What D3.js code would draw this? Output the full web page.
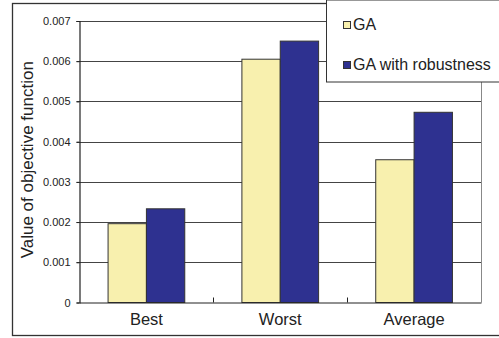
<!DOCTYPE html>
<html>
<head>
<meta charset="utf-8">
<script src="https://cdn.jsdelivr.net/npm/d3@7"></script>
<style>
  body { margin: 0; background: white; }
  text { font-family: "Liberation Sans", Arial, sans-serif; fill: #222; }
</style>
</head>
<body>
<script>
// chart data
const categories = ["Best", "Worst", "Average"];
const seriesNames = ["GA", "GA with robustness"];
const gaValues = [0.00196, 0.00605, 0.00355];
const robustValues = [0.00233, 0.00650, 0.00473];
const yTicks = [0, 0.001, 0.002, 0.003, 0.004, 0.005, 0.006, 0.007];
const yTitle = "Value of objective function";

const colors = ["#F8F0AE", "#2E3190"];

const W = 499, H = 338;
const plot = {left: 79.5, right: 481, top: 21, bottom: 302.5};

const svg = d3.select("body")
  .append("svg")
    .attr("width", W)
    .attr("height", H);

// outer frame (runs off the right edge like the original)
svg.append("rect")
  .attr("x", 12.5).attr("y", 3.5)
  .attr("width", 500).attr("height", 332)
  .attr("fill", "white")
  .attr("stroke", "#333")
  .attr("stroke-width", 1.3);

// scales
const x0 = d3.scaleBand()
  .domain(categories)
  .range([plot.left, plot.right])
  .padding(0);

const x1 = d3.scaleBand()
  .domain(seriesNames)
  .range([0, x0.bandwidth()])
  .paddingInner(0)
  .paddingOuter(0.745);

const y = d3.scaleLinear()
  .domain([0, 0.007])
  .range([plot.bottom, plot.top]);

// gridlines
svg.append("g")
  .selectAll("line")
  .data(yTicks.filter(d => d > 0))
  .enter()
  .append("line")
    .attr("x1", plot.left - 3)
    .attr("x2", plot.right)
    .attr("y1", d => Math.round(y(d)) + 0.5)
    .attr("y2", d => Math.round(y(d)) + 0.5)
    .attr("stroke", "#444")
    .attr("stroke-width", 1);

// right edge of plot area
svg.append("line")
  .attr("x1", plot.right + 0.5).attr("x2", plot.right + 0.5)
  .attr("y1", y(0.007)).attr("y2", plot.bottom)
  .attr("stroke", "#888");

// bars
const rows = categories.map((c, i) => ({cat: c, vals: [gaValues[i], robustValues[i]]}));
svg.append("g")
  .selectAll("g")
  .data(rows)
  .enter()
  .append("g")
    .attr("transform", d => `translate(${x0(d.cat)},0)`)
  .selectAll("rect")
  .data(d => d.vals.map((v, j) => ({name: seriesNames[j], value: v, j: j})))
  .enter()
  .append("rect")
    .attr("x", d => x1(d.name))
    .attr("y", d => y(d.value))
    .attr("width", x1.bandwidth())
    .attr("height", d => y(0) - y(d.value))
    .attr("fill", d => colors[d.j])
    .attr("stroke", "#333")
    .attr("stroke-width", 1);

// y axis
const yAxis = d3.axisLeft(y)
  .tickValues(yTicks)
  .tickSize(3)
  .tickFormat(d => d === 0 ? "0" : d3.format(".3f")(d));
const gy = svg.append("g")
  .attr("transform", `translate(${plot.left},0)`)
  .call(yAxis);
gy.select(".domain").attr("stroke", "#222").attr("stroke-width", 1.2);
gy.selectAll(".tick line").attr("stroke", "#222");
gy.selectAll(".tick text")
  .attr("x", -9)
  .style("font-size", "11px")
  .style("font-family", "'Liberation Sans', Arial, sans-serif")
  .attr("fill", "#222");

// x axis
const xAxis = d3.axisBottom(x0).tickSize(0).tickSizeOuter(0);
const gx = svg.append("g")
  .attr("transform", `translate(0,${plot.bottom})`)
  .call(xAxis);
gx.select(".domain").attr("stroke", "#222").attr("stroke-width", 1.2);
gx.selectAll(".tick text")
  .attr("y", 11)
  .style("font-size", "16.5px")
  .style("font-family", "'Liberation Sans', Arial, sans-serif")
  .attr("fill", "#222");

// category separator ticks pointing up
svg.append("g")
  .selectAll("line")
  .data(categories.slice(1))
  .enter()
  .append("line")
    .attr("x1", d => Math.round(x0(d)) + 0.5)
    .attr("x2", d => Math.round(x0(d)) + 0.5)
    .attr("y1", plot.bottom)
    .attr("y2", plot.bottom - 5)
    .attr("stroke", "#222");

// y axis title
svg.append("text")
  .attr("transform", `translate(33,${(plot.top + plot.bottom) / 2 - 2}) rotate(-90)`)
  .style("text-anchor", "middle")
  .style("font-size", "17px")
  .text(yTitle);

// legend box (extends past the right edge)
svg.append("rect")
  .attr("x", 326.5).attr("y", 0)
  .attr("width", 200).attr("height", 82)
  .attr("fill", "white")
  .attr("stroke", "#333")
  .attr("stroke-width", 1);

const legend = svg.append("g")
  .selectAll("g")
  .data(seriesNames)
  .enter()
  .append("g")
    .attr("transform", (d, i) => `translate(343,${21 + i * 40})`);
legend.append("rect")
  .attr("x", 0.5).attr("y", 0.5)
  .attr("width", 7).attr("height", 7)
  .attr("fill", (d, i) => colors[i])
  .attr("stroke", "#333");
legend.append("text")
  .attr("x", 10)
  .attr("y", 8.5)
  .style("font-size", "16px")
  .text(d => d);
</script>
</body>
</html>
